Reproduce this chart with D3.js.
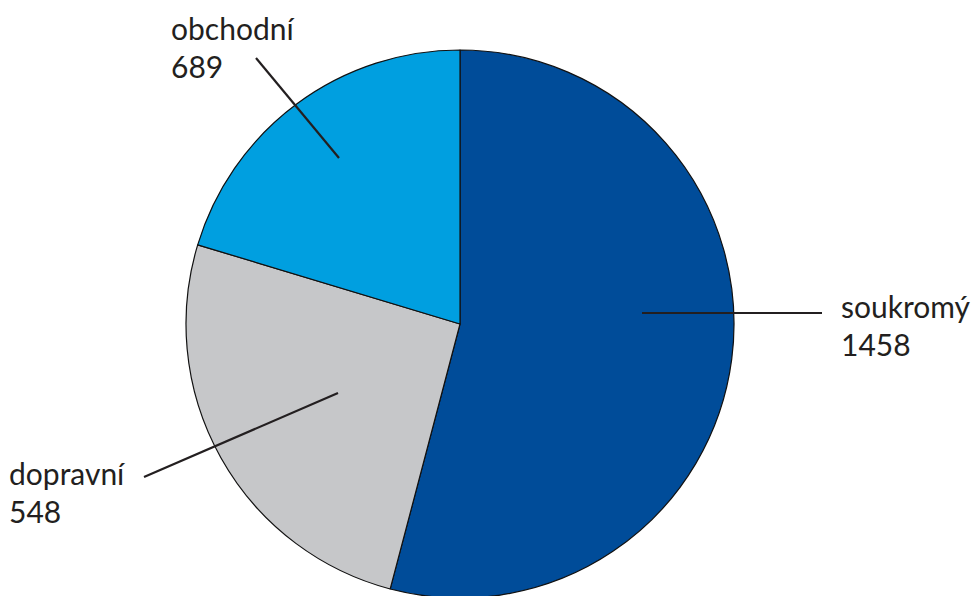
<!DOCTYPE html>
<html><head><meta charset="utf-8">
<script src="https://cdn.jsdelivr.net/npm/d3@7"></script>
<style>html,body{margin:0;padding:0;background:#fff;}svg{display:block;}</style>
</head><body>
<script>
const categories = ["soukromý", "obchodní", "dopravní"];
const values = [1458, 689, 548];
const colors = ["#004c99", "#c6c7c9", "#009fe0"];

const W = 973, H = 596, cx = 460, cy = 324, R = 274;
const svg = d3.select("body").append("svg").attr("width", W).attr("height", H);
const g = svg.append("g").attr("transform", `translate(${cx},${cy})`);

const pie = d3.pie().sort(null).value(d => d.v);
const data = categories.map((c, i) => ({c, v: values[i], col: colors[i]}));
const arcs = pie(data);
const arc = d3.arc().innerRadius(0).outerRadius(R);

g.selectAll("path.s").data(arcs).join("path")
  .attr("class", "s").attr("d", arc)
  .attr("fill", d => d.data.col)
  .attr("stroke", "#111").attr("stroke-width", 1.2).attr("stroke-linejoin", "round");

// label layout (positions only)
const layout = {
  "soukromý": {p1: [642, 313], p2: [822, 313], tx: 841, ty: 318},
  "obchodní": {p1: [339, 158], p2: [256, 58], tx: 171, ty: 40},
  "dopravní": {p1: [338, 393], p2: [144, 477], tx: 9, ty: 485}
};
const font = "Lato, 'Open Sans', sans-serif";
data.forEach(d => {
  const L = layout[d.c];
  svg.append("line").attr("x1", L.p1[0]).attr("y1", L.p1[1]).attr("x2", L.p2[0]).attr("y2", L.p2[1])
    .attr("stroke", "#231f20").attr("stroke-width", 2.2);
  const t = svg.append("text").attr("x", L.tx).attr("y", L.ty)
    .attr("font-family", font).attr("font-size", 30).attr("fill", "#231f20");
  t.append("tspan").attr("x", L.tx).text(d.c);
  t.append("tspan").attr("x", L.tx).attr("dy", 38).text(d.v);
});
</script>
</body></html>
